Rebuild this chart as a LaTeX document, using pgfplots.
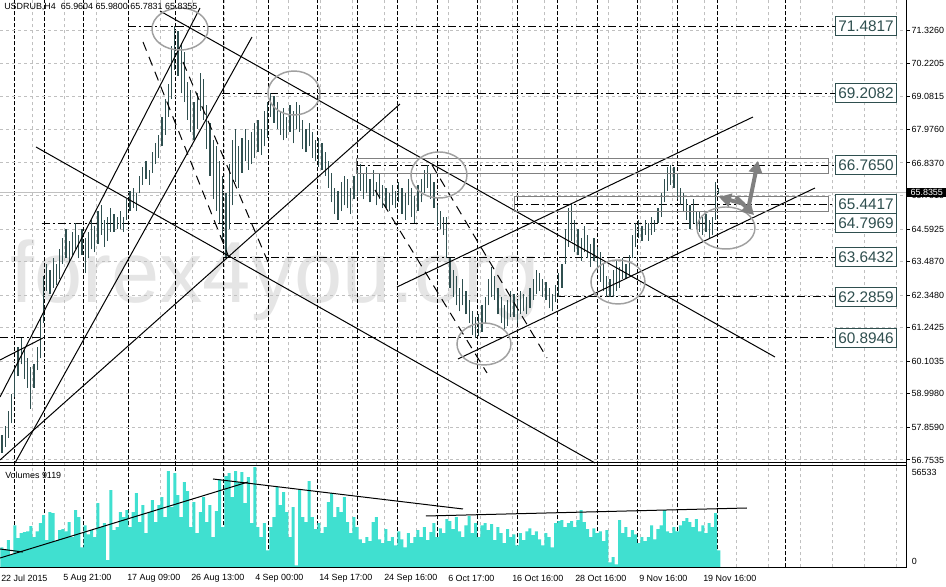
\documentclass[border=0pt]{standalone}
\usepackage{pgfplots}
\pgfplotsset{compat=1.18}
\usepackage{pgfplotstable}
\usepackage{fontspec}
\setmainfont{Liberation Sans}
\usetikzlibrary{arrows.meta}

\definecolor{barc}{HTML}{2F4F4F}
\definecolor{volc}{HTML}{40E0D0}
\definecolor{gridc}{HTML}{C0C0C0}
\definecolor{ringc}{HTML}{A0A0A0}
\newcommand{\tickfont}{\fontsize{6.7}{8}\selectfont}
\newcommand{\boxfont}{\fontsize{11.5}{12}\selectfont}

% H4 bars: high, low, volume (bar i sits at x = 2 + 3.2 i pixels)
\pgfplotstableread{
h l v
57.60 57.00 11300
57.90 57.20 10200
58.40 57.50 15300
59.00 58.00 6800
59.90 58.90 23700
60.60 59.60 16400
60.90 60.00 19200
60.50 59.50 19800
60.20 59.20 20300
59.90 58.50 23200
60.00 59.20 17000
60.60 59.80 20300
61.60 60.20 24900
63.00 61.40 29400
63.40 62.50 15300
63.20 62.40 31100
63.60 62.60 30500
63.40 62.70 14700
63.90 62.90 20900
64.30 63.40 21500
64.60 63.60 20300
64.20 63.50 25400
64.50 63.70 17000
64.80 63.90 32200
64.40 63.60 28300
64.60 63.70 11300
64.30 63.10 23700
64.50 63.60 18600
64.90 63.90 20900
64.70 63.80 17000
65.20 64.10 36200
65.40 64.40 22600
64.90 64.00 24900
65.00 64.20 4000
65.30 64.50 43500
65.10 64.50 20900
65.00 64.60 22600
65.20 64.60 31100
65.00 64.50 28300
65.60 64.90 32200
65.90 65.20 22600
66.00 65.30 31100
65.80 65.20 41800
66.40 65.80 25400
66.70 66.10 35000
66.90 66.30 19200
66.60 66.10 31100
67.20 66.50 37900
67.50 66.80 25400
67.80 67.00 35000
68.40 67.40 39600
69.00 67.80 28300
69.50 68.40 54200
70.80 69.00 33900
71.48 70.00 53100
71.30 69.80 40700
70.90 69.20 28300
70.60 68.90 48000
69.60 68.30 42900
69.30 67.90 22600
68.90 67.60 36700
69.20 68.00 19200
69.90 68.60 31100
69.70 68.30 39600
68.80 67.30 25400
68.20 66.40 35000
67.60 65.60 17000
67.40 65.20 31600
66.90 64.80 49700
66.40 64.20 22600
65.80 63.64 51400
66.80 64.60 53100
67.60 65.40 39600
68.00 66.20 54200
67.40 66.00 48000
67.70 66.50 53700
68.00 66.90 36200
67.60 66.60 50900
67.90 66.80 24900
68.20 67.00 56500
68.30 67.20 22600
68.00 67.10 17000
68.60 67.40 24900
68.90 67.70 9600
69.21 68.40 22600
69.10 68.20 28300
68.90 68.00 45200
68.60 67.80 35000
68.70 67.60 42400
68.40 67.70 31100
68.80 67.90 17000
68.60 67.50 33900
68.90 68.00 1100
68.80 67.90 43500
68.30 67.30 28300
68.00 67.20 25400
68.20 67.40 48600
67.90 67.00 28300
67.60 66.90 21500
67.70 66.70 24900
67.50 66.60 19200
67.20 66.40 22600
66.90 66.00 36700
66.50 65.50 41800
66.00 65.10 28300
65.90 64.90 33900
66.20 65.20 31100
66.40 65.40 39600
66.30 65.30 25400
66.00 65.10 19200
66.40 65.60 28300
66.60 65.70 22600
66.80 65.90 15800
66.50 65.60 13600
66.70 65.80 17000
66.30 65.50 14700
66.60 65.70 25400
66.20 65.40 28300
66.50 65.60 15800
66.10 65.30 13600
66.00 65.30 21500
65.80 65.20 14700
66.10 65.40 17000
65.90 65.30 12400
66.20 65.50 20300
66.00 65.10 15800
65.80 64.90 11300
66.30 65.40 19200
66.00 65.00 13600
65.70 64.80 17000
66.10 65.20 20900
66.30 65.50 17000
66.60 65.80 22600
66.77 66.00 15300
66.50 65.60 19800
66.20 65.30 24900
65.40 64.70 17000
65.20 64.60 22000
65.00 64.40 19200
65.00 63.60 27100
63.60 62.60 26000
63.20 62.30 21500
63.00 62.00 28300
62.60 61.80 20300
62.90 62.00 17000
62.50 61.70 23700
62.20 61.40 28800
61.80 61.00 19200
61.60 60.89 24900
61.70 60.95 17000
62.00 61.10 23700
62.30 61.40 24900
62.90 62.00 20900
63.30 62.30 24300
63.00 62.20 15300
62.60 61.70 22600
62.30 61.40 19200
62.00 61.20 13600
62.20 61.30 21500
62.50 61.60 17000
62.40 61.60 18600
62.20 61.40 12400
62.50 61.70 19200
62.40 61.80 15300
62.30 61.70 20300
62.60 61.90 22000
62.90 62.20 18100
63.20 62.40 20300
63.10 62.50 15800
62.90 62.30 12400
62.80 62.20 19200
62.60 61.90 17000
62.40 61.80 11300
62.70 62.10 24900
63.10 62.30 26000
63.40 62.60 26600
64.60 63.40 22600
65.30 64.00 24900
65.44 64.20 26000
64.90 63.80 22600
64.60 63.70 26600
64.30 63.50 32200
64.70 63.80 25400
64.40 63.60 21500
64.10 63.30 17000
64.30 63.50 22000
64.00 63.20 19200
63.80 62.80 20300
63.40 62.50 14700
63.00 62.30 20900
62.90 62.29 2800
63.20 62.30 5700
63.50 62.50 1700
63.30 62.60 26600
63.60 62.90 19200
63.40 62.90 22600
63.70 63.00 17000
64.40 63.60 20900
64.80 64.00 18600
64.90 64.30 13600
64.70 64.20 17000
64.90 64.40 14700
64.80 64.20 17000
65.00 64.40 23700
64.90 64.50 15800
65.30 64.80 21500
65.80 65.00 23700
66.30 65.50 32200
66.70 65.90 20300
66.77 66.10 19200
66.70 66.00 22600
66.50 65.60 20300
66.00 65.40 23700
65.80 65.20 26000
65.60 64.90 27700
65.40 64.60 25400
65.60 64.80 22600
65.20 64.60 27100
65.20 64.50 20300
65.00 64.40 23700
65.10 64.50 19200
64.90 64.30 24900
65.00 64.40 22600
66.20 64.90 30500
65.98 65.78 9600
}\bars

\begin{document}
\begin{tikzpicture}[x=0.75pt,y=0.75pt,
  lvl/.style={black, line width=0.75pt, dash pattern=on 6pt off 2.25pt on 1.5pt off 2.25pt},
  lbox/.style={anchor=west, draw=barc, text=barc, fill=white, line width=0.75pt,
               inner sep=0pt, minimum width=45.75pt, minimum height=14.25pt, font=\boxfont},
  tl/.style={black, line width=0.75pt},
  dl/.style={black, line width=0.75pt, dash pattern=on 7pt off 5pt},
  ring/.style={ringc, line width=1.1pt},
  garrow/.style={gray, line width=3pt, -{Triangle[length=9pt,width=10pt]}},
]
\useasboundingbox (0,0) rectangle (946,586);
\fill[white] (0,0) rectangle (946,586);

% watermark
\node[anchor=base west, inner sep=0pt, text=gray!20,
      font=\fontsize{65}{65}\selectfont] at (10,283) {forex4you.org};

% vertical grid and week separators, both panels
\foreach \g in {32,64,...,896}
  \draw[gridc, line width=0.75pt, dash pattern=on 2.25pt off 2.25pt] (\g,18.7) -- (\g,586);
\foreach \s in {14,44,83,128,175,223,268,317,357,397,437,477,517,557,597,637,677,717,785}
  \draw[black, line width=0.75pt, dash pattern=on 3pt off 1.5pt] (\s,18.7) -- (\s,586);

% price panel
\begin{axis}[
  at={(0pt,439.5pt)}, anchor=north west, scale only axis,
  width=680pt, height=347pt,
  xmin=0, xmax=906.7, ymin=56.662, ymax=72.368,
  clip=false,
  axis line style={draw=none}, tick style={draw=none},
  xtick=\empty,
  ytick={56.7535,57.8590,58.9980,60.1035,61.2425,62.3480,63.4870,64.5925,65.7315,66.8370,67.9760,69.0815,70.2205,71.3260},
  yticklabels={},
  ymajorgrids,
  major grid style={gridc, line width=0.75pt, dash pattern=on 2.25pt off 2.25pt},
]
% bid line
\addplot[gridc, line width=0.75pt, forget plot] coordinates {(0,65.8355) (906.7,65.8355)};

% levels
\addplot[lvl, forget plot] coordinates {(128,71.4817) (835,71.4817)};
\addplot[lvl, forget plot] coordinates {(222,69.2082) (835,69.2082)};
\addplot[lvl, forget plot] coordinates {(357,66.7650) (835,66.7650)};
\addplot[lvl, forget plot] coordinates {(515,65.4417) (835,65.4417)};
\addplot[lvl, forget plot] coordinates {(42,64.7969) (835,64.7969)};
\addplot[lvl, forget plot] coordinates {(223,63.6432) (835,63.6432)};
\addplot[lvl, forget plot] coordinates {(557,62.2859) (835,62.2859)};
\addplot[lvl, forget plot] coordinates {(0,60.8946) (835,60.8946)};

% high-low bars
\addplot[draw=none, mark=none, forget plot,
  error bars/.cd, y dir=plus, y explicit, error mark=none,
  error bar style={draw=barc, solid, line width=1pt}]
  table[x expr={2+3.2*\coordindex}, y=l, y error expr={\thisrow{h}-\thisrow{l}}] {\bars};

\node[lbox] at (axis cs:835,71.4817) {71.4817};
\node[lbox] at (axis cs:835,69.2082) {69.2082};
\node[lbox] at (axis cs:835,66.7650) {66.7650};
\node[lbox] at (axis cs:835,65.4417) {65.4417};
\node[lbox] at (axis cs:835,64.7969) {64.7969};
\node[lbox] at (axis cs:835,63.6432) {63.6432};
\node[lbox] at (axis cs:835,62.2859) {62.2859};
\node[lbox] at (axis cs:835,60.8946) {60.8946};

% right price scale
\pgfplotsinvokeforeach{71.3260,70.2205,69.0815,67.9760,66.8370,65.7315,64.5925,63.4870,62.3480,61.2425,60.1035,58.9980,57.8590,56.7535}{
  \draw[black, line width=0.75pt] (axis cs:906.7,#1) -- (axis cs:910,#1);
  \node[anchor=west, inner sep=0pt, font=\tickfont] at (axis cs:911.5,#1) {#1};
}
\node[anchor=west, fill=black, text=white, inner xsep=1pt, inner ysep=1.2pt,
      minimum width=29pt, font=\tickfont] at (axis cs:907.2,65.8355) {65.8355};
\end{axis}

% drawn objects, in screen pixels (y down)
\begin{axis}[
  at={(0pt,439.5pt)}, anchor=north west, scale only axis,
  width=680pt, height=347pt,
  xmin=0, xmax=906.7, ymin=0, ymax=462.7, y dir=reverse,
  hide axis, clip=false,
]
\addplot[tl, forget plot] coordinates {(160,11) (775,357)};
\addplot[tl, forget plot] coordinates {(36,147) (595,463)};
\addplot[tl, forget plot] coordinates {(458,359) (815,188)};
\addplot[tl, forget plot] coordinates {(397,287) (753,117)};
\addplot[tl, forget plot] coordinates {(0,460) (400,104)};
\addplot[tl, forget plot] coordinates {(15,463) (252,37)};
\addplot[tl, forget plot] coordinates {(0,397) (200,8)};
\addplot[tl, forget plot] coordinates {(0,360) (43,338)};
\addplot[dl, forget plot] coordinates {(143,42) (228,255)};
\addplot[dl, forget plot] coordinates {(183,62) (268,262)};
\addplot[dl, forget plot] coordinates {(375,190) (487,373)};
\addplot[dl, forget plot] coordinates {(432,165) (547,358)};

\draw[gray, line width=0.75pt] (axis cs:357,159) rectangle (axis cs:829,174);
\draw[gray, line width=0.75pt] (axis cs:515,197) rectangle (axis cs:829,212);

\draw[ring] (axis cs:180,29) ellipse [x radius=21pt, y radius=15.75pt];
\draw[ring] (axis cs:294,93) ellipse [x radius=19.5pt, y radius=16.5pt];
\draw[ring] (axis cs:439,175) ellipse [x radius=21pt, y radius=17.25pt];
\draw[ring] (axis cs:484,344) ellipse [x radius=20.25pt, y radius=15.75pt];
\draw[ring] (axis cs:618,282) ellipse [x radius=20.25pt, y radius=16.5pt];
\draw[ring] (axis cs:726,228) ellipse [x radius=21.75pt, y radius=15.75pt];

\draw[garrow] (axis cs:744,204) -- (axis cs:719,197);
\draw[garrow] (axis cs:736,197) -- (axis cs:754,215);
\draw[garrow] (axis cs:748,210) -- (axis cs:758,161);
\end{axis}

% volume panel
\begin{axis}[
  at={(0pt,90.525pt)}, anchor=north west, scale only axis,
  width=680pt, height=76.5pt,
  xmin=0, xmax=906.7, ymin=0, ymax=57500,
  hide axis, clip=false,
]
\addplot[ybar, bar width=3, fill=volc, draw=none, forget plot]
  table[x expr={2+3.2*\coordindex}, y=v] {\bars};
\addplot[tl, forget plot] coordinates {(0,5240) (248,48090)};
\addplot[tl, forget plot] coordinates {(0,10320) (23,8620)};
\addplot[tl, forget plot] coordinates {(213,49780) (463,32870)};
\addplot[tl, forget plot] coordinates {(426,28920) (747,33430)};
\end{axis}

% frame
\draw[black, line width=0.9pt] (0,123.3) -- (906.7,123.3);
\draw[black, line width=0.9pt] (0,120.7) -- (906.7,120.7);
\draw[black, line width=0.9pt] (0,18.7) -- (906.7,18.7);
\draw[black, line width=0.9pt] (906.7,18.7) -- (906.7,586);

% texts
\node[anchor=west, inner sep=0pt, font=\tickfont] at (4,579) {USDRUB,H4\ \ 65.9604 65.9800 65.7831 65.8355};
\node[anchor=west, inner sep=0pt, font=\tickfont] at (5,111) {Volumes 9119};
\node[anchor=west, inner sep=0pt, font=\tickfont] at (911.5,113.3) {56533};
\node[anchor=west, inner sep=0pt, font=\tickfont] at (911.5,24.3) {0};

\foreach \x/\t in {1/22 Jul 2015, 63/5 Aug 21:00, 127/17 Aug 09:00, 191/26 Aug 13:00,
                   255/4 Sep 00:00, 319/14 Sep 17:00, 384/24 Sep 16:00, 448/6 Oct 17:00,
                   512/16 Oct 16:00, 575/28 Oct 16:00, 639/9 Nov 16:00, 703/19 Nov 16:00}
  \node[anchor=west, inner sep=0pt, font=\tickfont] at (\x,8) {\t};
\end{tikzpicture}
\end{document}
